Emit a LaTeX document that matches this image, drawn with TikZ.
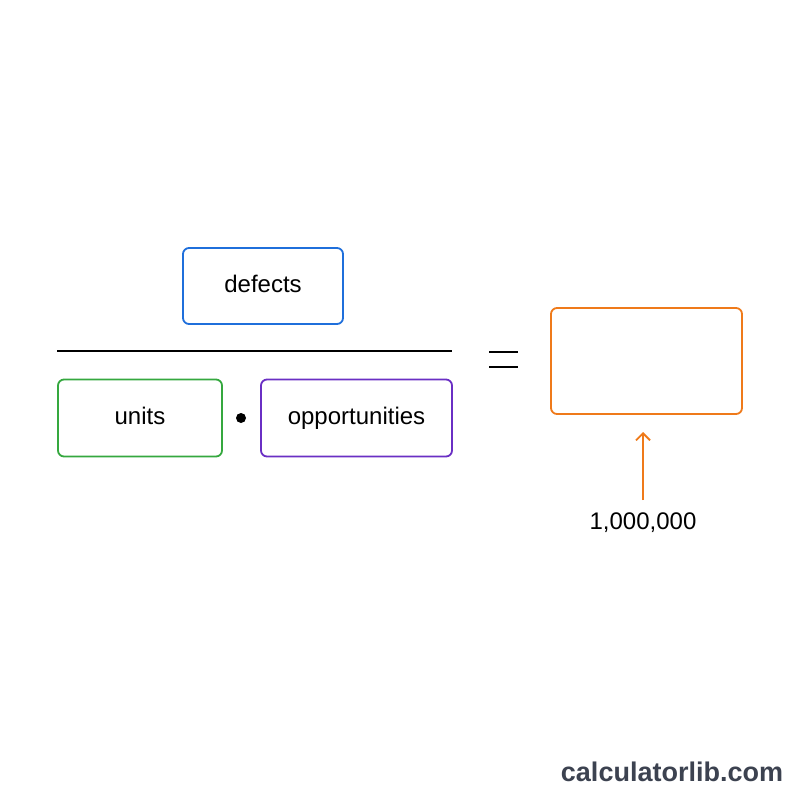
\documentclass[tikz,border=0pt]{standalone}
\usepackage{fontspec}
\setmainfont{Liberation Sans}
\newfontfamily\brandfont{Liberation Sans}
\usetikzlibrary{arrows.meta}
\definecolor{cblue}{HTML}{1F6FDB}
\definecolor{cgreen}{HTML}{35A83F}
\definecolor{cpurple}{HTML}{6A2FC4}
\definecolor{corange}{HTML}{EF7A1A}
\definecolor{cgray}{HTML}{3C4250}
\begin{document}
\begin{tikzpicture}[x=1pt,y=-1pt,
  box/.style={draw,line width=1.8pt,rounded corners=6pt,inner sep=0pt,text height=17pt,text depth=4pt,font=\fontsize{24}{28}\selectfont}]
\useasboundingbox[fill=white] (0,0) rectangle (800,800);
\node[box,cblue,minimum width=160pt,minimum height=76pt,text=black] (def) at (263,286) {defects};
\draw[line width=1.6pt] (57,351) coordinate (l1) -- (452,351) coordinate (l2);
\node[box,cgreen,minimum width=164pt,minimum height=77pt,text=black] (un) at (140,418) {units};
\fill (241,418) circle (5pt) coordinate (dot);
\node[box,cpurple,minimum width=191pt,minimum height=77pt,text=black] (op) at (356.5,418) {opportunities};
\draw[line width=2pt] (489,352) coordinate (e1) -- (518,352) (489,367) -- (518,367);
\node[box,corange,minimum width=191pt,minimum height=106pt] (res) at (646.5,361) {};
\node[font=\fontsize{24}{28}\selectfont] (mil) at (643,523) {1,000,000};
\draw[corange,line width=1.8pt,-{Straight Barb[length=7pt,width=14pt]}] (643,500) -- (643,432);
\node[font=\brandfont\bfseries\fontsize{27}{30}\selectfont,text=cgray] (brand) at (672,772) {calculatorlib.com};
\end{tikzpicture}
\end{document}
